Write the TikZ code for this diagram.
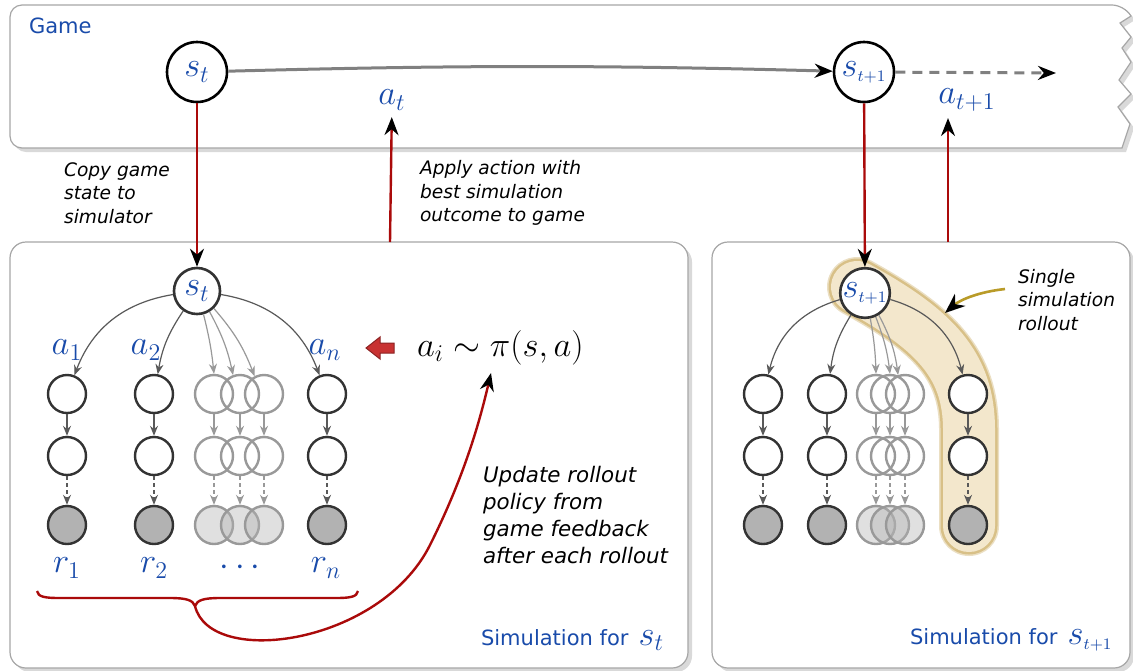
\documentclass[tikz,border=0pt]{standalone}
\usepackage{fontspec}
\setmainfont{DejaVu Sans}
\usetikzlibrary{arrows.meta,shadows,calc,positioning}
\definecolor{labelblue}{RGB}{25,75,170}
\definecolor{linkred}{RGB}{170,10,10}
\definecolor{blockred}{RGB}{200,50,50}
\definecolor{bandfill}{RGB}{243,231,204}
\definecolor{bandedge}{RGB}{216,192,135}
\definecolor{pointgold}{RGB}{185,155,40}

\tikzset{
  panel/.style={draw=black!35, fill=white, line width=0.6pt,
    drop shadow={opacity=0.3, shadow xshift=2pt, shadow yshift=-2pt}},
  root/.style={circle, draw=black, fill=white, line width=1.3pt, minimum size=30pt,
    inner sep=0pt, text=labelblue, font=\fontsize{17}{20}\selectfont},
  sroot/.style={root, draw=black!80, minimum size=23pt},
  st/.style={circle, draw=black!80, fill=white, line width=1.2pt, minimum size=19pt, inner sep=0pt},
  leaf/.style={st, fill=black!30},
  ghost/.style={st, draw=black!40, fill=none},
  gleaf/.style={ghost, fill=black!30, fill opacity=0.4},
  lbl/.style={text=labelblue, font=\fontsize{17}{20}\selectfont},
  tr/.style={-{Stealth[length=5pt,width=4pt]}, draw=black!65, line width=0.6pt},
  gtr/.style={tr, draw=black!40},
  dtr/.style={dash pattern=on 2pt off 1.5pt},
  redarr/.style={draw=linkred, line width=1.2pt, -{Stealth[black,length=9pt,width=7pt]}},
  note/.style={font=\fontsize{9.3}{11.7}\selectfont\itshape, align=left, anchor=west},
  title/.style={text=labelblue, font=\fontsize{10.5}{12}\selectfont, anchor=west},
}

\begin{document}
\begin{tikzpicture}[x=0.5pt,y=0.5pt]
  \useasboundingbox (0,0) rectangle (1133,-670);

  % panels
  \path[panel] (1122,-148) [rounded corners=6pt] -- (10,-148) -- (10,-5) -- (1124,-5)
    [sharp corners] -- (1131,-16) -- (1120,-23) -- (1131,-37) -- (1122,-48) -- (1131,-62)
    -- (1119,-80) -- (1131,-94) -- (1118,-107) -- (1130,-124) -- cycle;
  \path[panel, rounded corners=8pt] (10,-242) rectangle (688,-668);
  \path[panel, rounded corners=8pt] (712,-242) rectangle (1130,-668);

  % highlighted rollout
  \foreach \w/\c in {30pt/bandedge!50, 28.5pt/bandedge, 26pt/bandfill}
    \draw[draw=\c, line width=\w, line cap=round]
      (857,-287) .. controls (935,-330) and (969,-365) .. (969,-430) -- (969,-526);

  % game
  \node[title] (gamelbl) at (22,-26) {Game};
  \node[root] (gst) at (197,-72) {$s_t$};
  \node[root] (gsn) at (864,-72) {$s_{\scriptscriptstyle t+1}$};
  \node[lbl] (gat) at (392,-100) {$a_t$};
  \node[lbl] (gan) at (967,-100) {$a_{t+1}$};
  \coordinate (gend) at (1056,-73);
  \draw[line width=1.5pt, draw=black!50, -{Stealth[black,length=9pt,width=7pt]}]
    (gst) to[bend left=1.5] (gsn);
  \draw[line width=1.5pt, draw=black!50, dash pattern=on 5pt off 3.5pt,
    -{Stealth[black,length=9pt,width=7pt]}] (gsn) -- (gend);

  \node[note] (copytxt) at (57,-193) {Copy game\\state to\\simulator};
  \node[note] (applytxt) at (413,-193) {Apply action with\\best simulation\\outcome to game};

  % simulation for s_t
  \node[sroot] (sa) at (197,-291) {$s_t$};
  \foreach \x/\n in {67/1,154/2,327/3} {
    \node[st] (u\n) at (\x,-394) {};
    \node[st] (v\n) at (\x,-456) {};
    \node[leaf] (w\n) at (\x,-525) {};
    \draw[tr] (u\n) -- (v\n);
    \draw[tr, dtr] (v\n) -- (w\n);
  }
  \foreach \x/\n in {214/1,240/2,264/3} {
    \node[ghost] (gu\n) at (\x,-394) {};
    \node[ghost] (gv\n) at (\x,-456) {};
    \node[gleaf] (gw\n) at (\x,-525) {};
    \draw[gtr] (gu\n) -- (gv\n);
    \draw[gtr, dtr] (gv\n) -- (gw\n);
  }
  \draw[tr] (sa) to[bend right=30] (u1);
  \draw[tr] (sa) to[bend right=12] (u2);
  \draw[tr] (sa) to[bend left=30] (u3);
  \draw[gtr] (sa) to[bend left=4] (gu1.north);
  \draw[gtr] (sa) to[bend left=8] (gu2.110);
  \draw[gtr] (sa) to[bend left=10] (gu3.118);

  \node[lbl] (la1) at (67,-350) {$a_1$};
  \node[lbl] (la2) at (146,-350) {$a_2$};
  \node[lbl] (lan) at (325,-350) {$a_n$};
  \node[lbl] (lr1) at (67,-568) {$r_1$};
  \node[lbl] (lr2) at (154,-568) {$r_2$};
  \node[lbl] (lrd) at (240,-568) {$\cdots$};
  \node[lbl] (lrn) at (326,-568) {$r_n$};

  \node[lbl, text=black, anchor=west] (pol) at (410,-348) {$a_i \sim \pi(s,a)$};
  \filldraw[fill=blockred, draw=blockred!70!black, line width=0.5pt]
    (366,-348) -- (380,-337) -- (380,-343) -- (394,-343) -- (394,-353) -- (380,-353)
    -- (380,-359) -- cycle;

  \node[note, font=\fontsize{10.7}{13.5}\selectfont\itshape] (updtxt) at (476,-515)
    {Update rollout\\policy from\\game feedback\\after each rollout};

  \draw[linkred, line width=1.2pt] (37,-591) .. controls (38,-597) and (45,-598) .. (60,-598)
    -- (170,-598) .. controls (186,-598) and (193,-600) .. (195,-606)
    .. controls (197,-600) and (204,-598) .. (220,-598) -- (335,-598)
    .. controls (350,-598) and (357,-597) .. (358,-591);
  \coordinate (cusp) at (195,-606);
  \coordinate (poltip) at (491,-373);
  \draw[redarr] (cusp) .. controls (210,-668) and (380,-645) .. (430,-545)
    .. controls (465,-475) and (480,-420) .. (poltip);

  \node[title] (simlbla) at (474,-640) {Simulation for\, {\fontsize{17}{20}\selectfont$s_t$}};

  % simulation for s_{t+1}
  \node[sroot, minimum size=22pt] (sb) at (865,-293) {$s_{\scriptscriptstyle t+1}$};
  \foreach \x/\n in {763/1,827/2,968/3} {
    \node[st] (p\n) at (\x,-394) {};
    \node[st] (q\n) at (\x,-456) {};
    \node[leaf] (z\n) at (\x,-525) {};
    \draw[tr] (p\n) -- (q\n);
    \draw[tr, dtr] (q\n) -- (z\n);
  }
  \foreach \x/\n in {876/1,890/2,905/3} {
    \node[ghost] (gp\n) at (\x,-394) {};
    \node[ghost] (gq\n) at (\x,-456) {};
    \node[gleaf] (gz\n) at (\x,-525) {};
    \draw[gtr] (gp\n) -- (gq\n);
    \draw[gtr, dtr] (gq\n) -- (gz\n);
  }
  \draw[tr] (sb) to[bend right=30] (p1);
  \draw[tr] (sb) to[bend right=12] (p2);
  \draw[tr] (sb) to[bend left=30] (p3);
  \draw[gtr] (sb) to[bend left=4] (gp1.north);
  \draw[gtr] (sb) to[bend left=7] (gp2.north);
  \draw[gtr] (sb) to[bend left=10] (gp3.110);

  \node[note] (rolltxt) at (1011,-300) {Single\\simulation\\rollout};
  \coordinate (rollstart) at (1005,-289);
  \draw[pointgold, line width=1.3pt, -{Stealth[black,length=10pt,width=8pt]}]
    (rollstart) .. controls (978,-292) and (960,-300) .. (945,-313);

  \node[title] (simlblb) at (903,-640) {Simulation for\, {\fontsize{17}{20}\selectfont$s_{\scriptscriptstyle t+1}$}};

  % links between game and simulations
  \coordinate (upa) at (390,-242);
  \coordinate (upb) at (948,-242);
  \draw[redarr] (gst) -- (sa);
  \draw[redarr] (upa) -- (gat);
  \draw[redarr] (gsn) -- (sb);
  \draw[redarr] (upb) -- (upb |- gan.south);
\end{tikzpicture}
\end{document}
